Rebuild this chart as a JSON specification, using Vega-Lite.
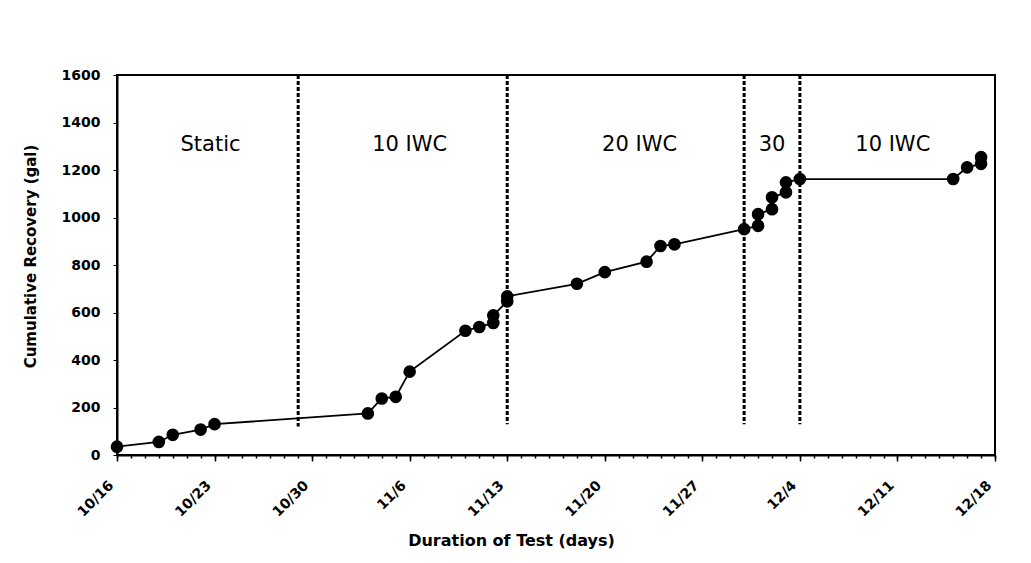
{
  "$schema": "https://vega.github.io/schema/vega-lite/v6.json",
  "width": 878,
  "height": 380,
  "autosize": "none",
  "padding": {"left": 117, "top": 75, "right": 36, "bottom": 108},
  "background": "white",
  "config": {
    "view": {"stroke": "black", "strokeWidth": 2},
    "font": "DejaVu Sans",
    "axis": {"grid": false, "domainColor": "black", "tickColor": "black", "labelColor": "black", "titleColor": "black", "labelFont": "DejaVu Sans", "titleFont": "DejaVu Sans"}
  },
  "resolve": {"axis": {"x": "independent"}},
  "datasets": {
    "pts": [
      {"order": 1, "date": "1996-10-16", "gal": 35},
      {"order": 2, "date": "1996-10-19", "gal": 55},
      {"order": 3, "date": "1996-10-20", "gal": 85},
      {"order": 4, "date": "1996-10-22", "gal": 107},
      {"order": 5, "date": "1996-10-23", "gal": 130},
      {"order": 6, "date": "1996-11-03", "gal": 175},
      {"order": 7, "date": "1996-11-04", "gal": 238},
      {"order": 8, "date": "1996-11-05", "gal": 245},
      {"order": 9, "date": "1996-11-06", "gal": 351},
      {"order": 10, "date": "1996-11-10", "gal": 523},
      {"order": 11, "date": "1996-11-11", "gal": 539},
      {"order": 12, "date": "1996-11-12", "gal": 556},
      {"order": 13, "date": "1996-11-12", "gal": 588},
      {"order": 14, "date": "1996-11-13", "gal": 647},
      {"order": 15, "date": "1996-11-13", "gal": 668},
      {"order": 16, "date": "1996-11-18", "gal": 721},
      {"order": 17, "date": "1996-11-20", "gal": 770},
      {"order": 18, "date": "1996-11-23", "gal": 814},
      {"order": 19, "date": "1996-11-24", "gal": 880},
      {"order": 20, "date": "1996-11-25", "gal": 887},
      {"order": 21, "date": "1996-11-30", "gal": 951},
      {"order": 22, "date": "1996-12-01", "gal": 965},
      {"order": 23, "date": "1996-12-01", "gal": 1014},
      {"order": 24, "date": "1996-12-02", "gal": 1035},
      {"order": 25, "date": "1996-12-02", "gal": 1085},
      {"order": 26, "date": "1996-12-03", "gal": 1106},
      {"order": 27, "date": "1996-12-03", "gal": 1148},
      {"order": 28, "date": "1996-12-04", "gal": 1162},
      {"order": 29, "date": "1996-12-15", "gal": 1162},
      {"order": 30, "date": "1996-12-16", "gal": 1211},
      {"order": 31, "date": "1996-12-17", "gal": 1226},
      {"order": 32, "date": "1996-12-17", "gal": 1254}
    ],
    "phases": [
      {"date": "1996-10-29", "top": 1600, "bottom": 120},
      {"date": "1996-11-13", "top": 1600, "bottom": 130},
      {"date": "1996-11-30", "top": 1600, "bottom": 130},
      {"date": "1996-12-04", "top": 1600, "bottom": 130}
    ],
    "labels": [
      {"date": "1996-10-22T17:00:00", "gal": 1305, "label": "Static"},
      {"date": "1996-11-06T00:00:00", "gal": 1305, "label": "10 IWC"},
      {"date": "1996-11-22T12:00:00", "gal": 1305, "label": "20 IWC"},
      {"date": "1996-12-02T00:00:00", "gal": 1305, "label": "30"},
      {"date": "1996-12-10T16:00:00", "gal": 1305, "label": "10 IWC"}
    ]
  },
  "layer": [
    {
      "data": {"name": "phases"},
      "mark": {"type": "rule", "color": "black", "strokeWidth": 3, "strokeDash": [4, 2]},
      "encoding": {
        "x": {
          "field": "date", "type": "temporal",
          "scale": {"type": "utc", "domain": [{"year": 1996, "month": 10, "date": 16, "utc": true}, {"year": 1996, "month": 12, "date": 18, "utc": true}], "nice": false},
          "axis": {
            "orient": "bottom",
            "title": "Duration of Test (days)",
            "titleFontSize": 16, "titleFontWeight": "bold",
            "titleX": 394, "titleY": 85, "titleAlign": "center", "titleBaseline": "middle", "titleAnchor": null,
            "labelExpr": "utcFormat(datum.value, '%-m/%-d')",
            "labelAngle": -45, "labelAlign": "right", "labelBaseline": "middle", "labelFontSize": 14, "labelFontWeight": "bold", "labelPadding": 22, "labelOffset": -6,
            "values": [
              {"year": 1996, "month": 10, "date": 16, "utc": true},
              {"year": 1996, "month": 10, "date": 23, "utc": true},
              {"year": 1996, "month": 10, "date": 30, "utc": true},
              {"year": 1996, "month": 11, "date": 6, "utc": true},
              {"year": 1996, "month": 11, "date": 13, "utc": true},
              {"year": 1996, "month": 11, "date": 20, "utc": true},
              {"year": 1996, "month": 11, "date": 27, "utc": true},
              {"year": 1996, "month": 12, "date": 4, "utc": true},
              {"year": 1996, "month": 12, "date": 11, "utc": true},
              {"year": 1996, "month": 12, "date": 18, "utc": true}
            ],
            "tickSize": 6, "domainWidth": 2, "tickWidth": 1.5
          }
        },
        "y": {
          "field": "top", "type": "quantitative",
          "scale": {"domain": [0, 1600], "nice": false},
          "axis": {
            "title": "Cumulative Recovery (gal)",
            "titleFontSize": 15, "titleFontWeight": "bold",
            "titleX": -87, "titleY": 181, "titleAlign": "center", "titleBaseline": "middle", "titleAnchor": null,
            "values": [0, 200, 400, 600, 800, 1000, 1200, 1400, 1600],
            "format": "d",
            "labelFontSize": 14, "labelFontWeight": "bold", "labelPadding": 13,
            "tickSize": 4, "domainWidth": 2
          }
        },
        "y2": {"field": "bottom"}
      }
    },
    {
      "data": {"name": "pts"},
      "mark": {"type": "line", "color": "black", "strokeWidth": 1.8},
      "encoding": {
        "x": {
          "field": "date", "type": "temporal",
          "axis": {"orient": "bottom", "title": null, "labels": false, "domain": false, "tickCount": {"interval": "day", "step": 1}, "tickSize": 3, "tickWidth": 1.5}
        },
        "y": {"field": "gal", "type": "quantitative"},
        "order": {"field": "order", "type": "quantitative"}
      }
    },
    {
      "data": {"name": "pts"},
      "mark": {"type": "point", "filled": true, "color": "black", "opacity": 1, "size": 160},
      "encoding": {
        "x": {"field": "date", "type": "temporal", "axis": null},
        "y": {"field": "gal", "type": "quantitative"}
      }
    },
    {
      "data": {"name": "labels"},
      "mark": {"type": "text", "fontSize": 21, "color": "black", "font": "DejaVu Sans", "align": "center", "baseline": "middle"},
      "encoding": {
        "x": {"field": "date", "type": "temporal", "axis": null},
        "y": {"field": "gal", "type": "quantitative"},
        "text": {"field": "label"}
      }
    }
  ]
}
